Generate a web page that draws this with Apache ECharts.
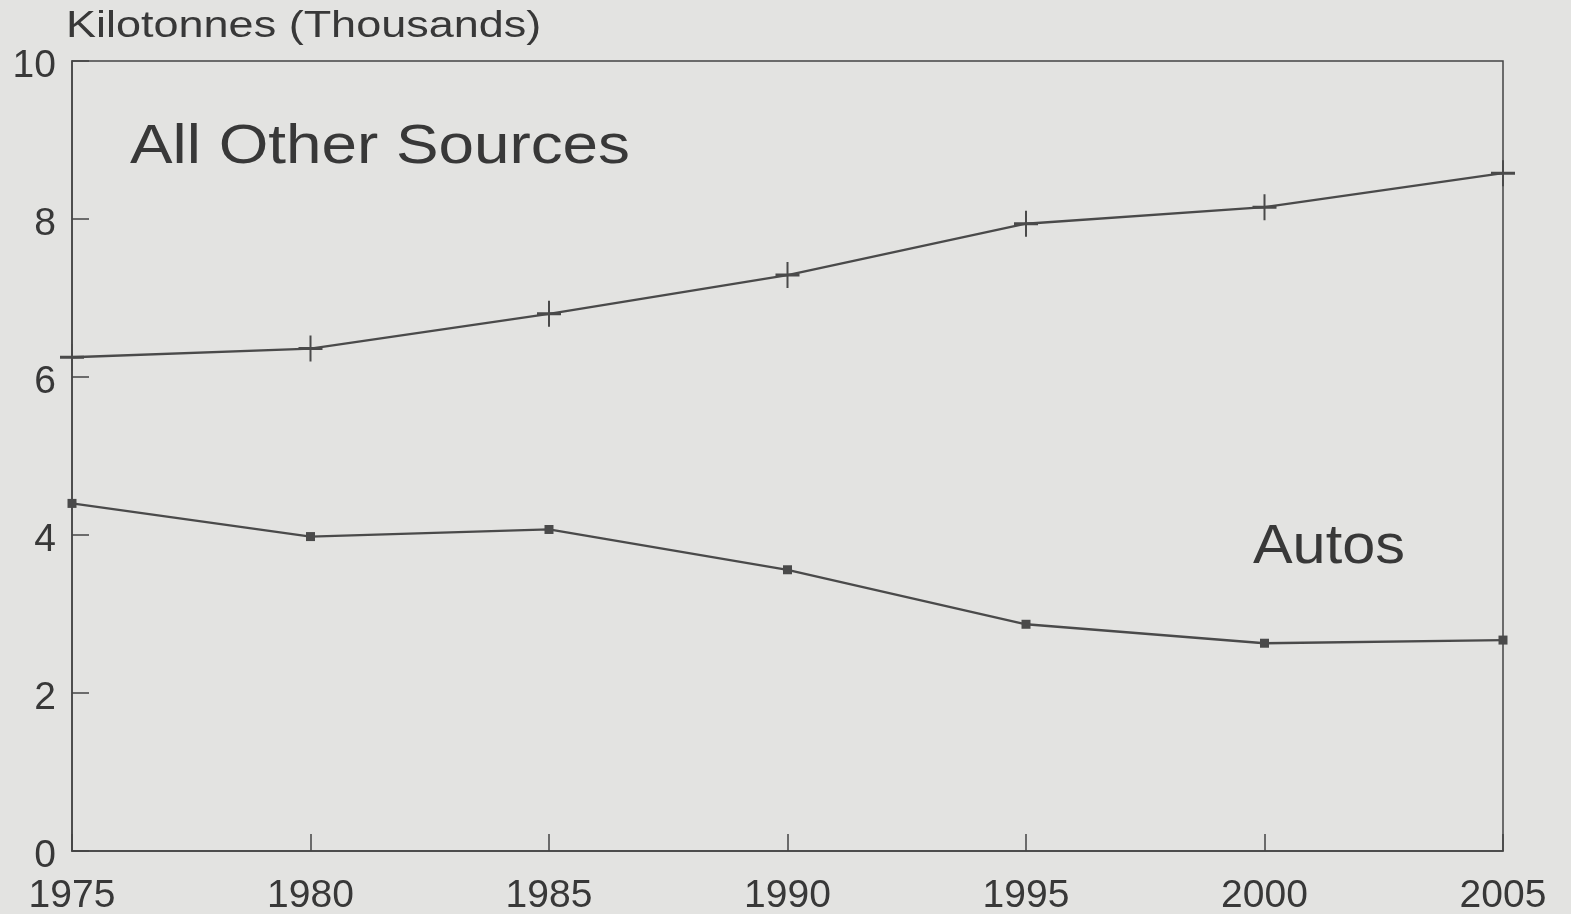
<!DOCTYPE html>
<html>
<head>
<meta charset="utf-8">
<script src="https://cdn.jsdelivr.net/npm/echarts@6/dist/echarts.min.js"></script>
<style>
  html, body { margin: 0; padding: 0; background: #e3e3e1; }
  #chart { width: 1571px; height: 914px; }
</style>
</head>
<body>
<div id="chart"></div>
<script>
// Emissions by source, kilotonnes (thousands)
const years = [1975, 1980, 1985, 1990, 1995, 2000, 2005];
const otherSources = [6.25, 6.36, 6.80, 7.29, 7.94, 8.15, 8.58];
const autos = [4.40, 3.98, 4.07, 3.56, 2.87, 2.63, 2.67];
const yTicks = [0, 2, 4, 6, 8, 10];
const xTicks = [1975, 1980, 1985, 1990, 1995, 2000, 2005];

const ink = '#383838';
const lineInk = '#4a4a4a';
const fontFamily = '"Liberation Sans", Arial, Helvetica, sans-serif';

// Plus-shaped marker: thin vertical bar crossed by a short thicker horizontal bar
const plusPath = 'path://M11,0 H13 V11.5 H24 V14.5 H13 V26 H11 V14.5 H0 V11.5 H11 Z';

const chart = echarts.init(document.getElementById('chart'), null, { renderer: 'canvas' });

chart.setOption({
  backgroundColor: '#e3e3e1',
  animation: false,
  grid: {
    left: 72, right: 68, top: 61, bottom: 63,
    outerBoundsMode: 'none',
    containLabel: false,
    show: true,
    borderColor: '#444',
    borderWidth: 1.5,
    backgroundColor: 'transparent'
  },
  xAxis: {
    type: 'value',
    min: xTicks[0],
    max: xTicks[xTicks.length - 1],
    interval: 5,
    axisLine: { show: true, onZero: false, lineStyle: { color: '#444', width: 1.5 } },
    axisTick: { show: true, inside: true, length: 17, lineStyle: { color: '#444', width: 1.5 } },
    splitLine: { show: false },
    axisLabel: {
      margin: 26,
      fontSize: 39,
      fontFamily: fontFamily,
      color: ink,
      showMinLabel: true,
      showMaxLabel: true,
      formatter: v => String(v)
    }
  },
  yAxis: {
    type: 'value',
    min: yTicks[0],
    max: yTicks[yTicks.length - 1],
    interval: 2,
    axisLine: { show: true, lineStyle: { color: '#444', width: 1.5 } },
    axisTick: { show: true, inside: true, length: 17, lineStyle: { color: '#444', width: 1.5 } },
    splitLine: { show: false },
    axisLabel: {
      margin: 16,
      color: ink,
      formatter: v => '{v|' + v + '}',
      rich: {
        v: {
          fontSize: 39,
          fontFamily: fontFamily,
          color: ink,
          padding: [10, 0, 0, 0]
        }
      }
    }
  },
  series: [
    {
      name: 'All Other Sources',
      type: 'line',
      data: years.map((y, i) => [y, otherSources[i]]),
      symbol: plusPath,
      symbolSize: [24, 26],
      showAllSymbol: true,
      clip: false,
      itemStyle: { color: lineInk },
      lineStyle: { color: lineInk, width: 2.3 }
    },
    {
      name: 'Autos',
      type: 'line',
      data: years.map((y, i) => [y, autos[i]]),
      symbol: 'rect',
      symbolSize: 9,
      showAllSymbol: true,
      clip: false,
      itemStyle: { color: lineInk },
      lineStyle: { color: lineInk, width: 2.3 }
    }
  ],
  graphic: [
    {
      type: 'text',
      left: 66, top: 9,
      scaleX: 1.25,
      style: {
        text: 'Kilotonnes (Thousands)',
        fontSize: 36,
        fontFamily: fontFamily,
        fill: ink
      }
    },
    {
      type: 'text',
      left: 130, top: 120,
      scaleX: 1.16,
      style: {
        text: 'All Other Sources',
        fontSize: 55,
        fontFamily: fontFamily,
        fill: ink
      }
    },
    {
      type: 'text',
      left: 1253, top: 520,
      scaleX: 1.08,
      style: {
        text: 'Autos',
        fontSize: 55,
        fontFamily: fontFamily,
        fill: ink
      }
    }
  ]
});
</script>
</body>
</html>
